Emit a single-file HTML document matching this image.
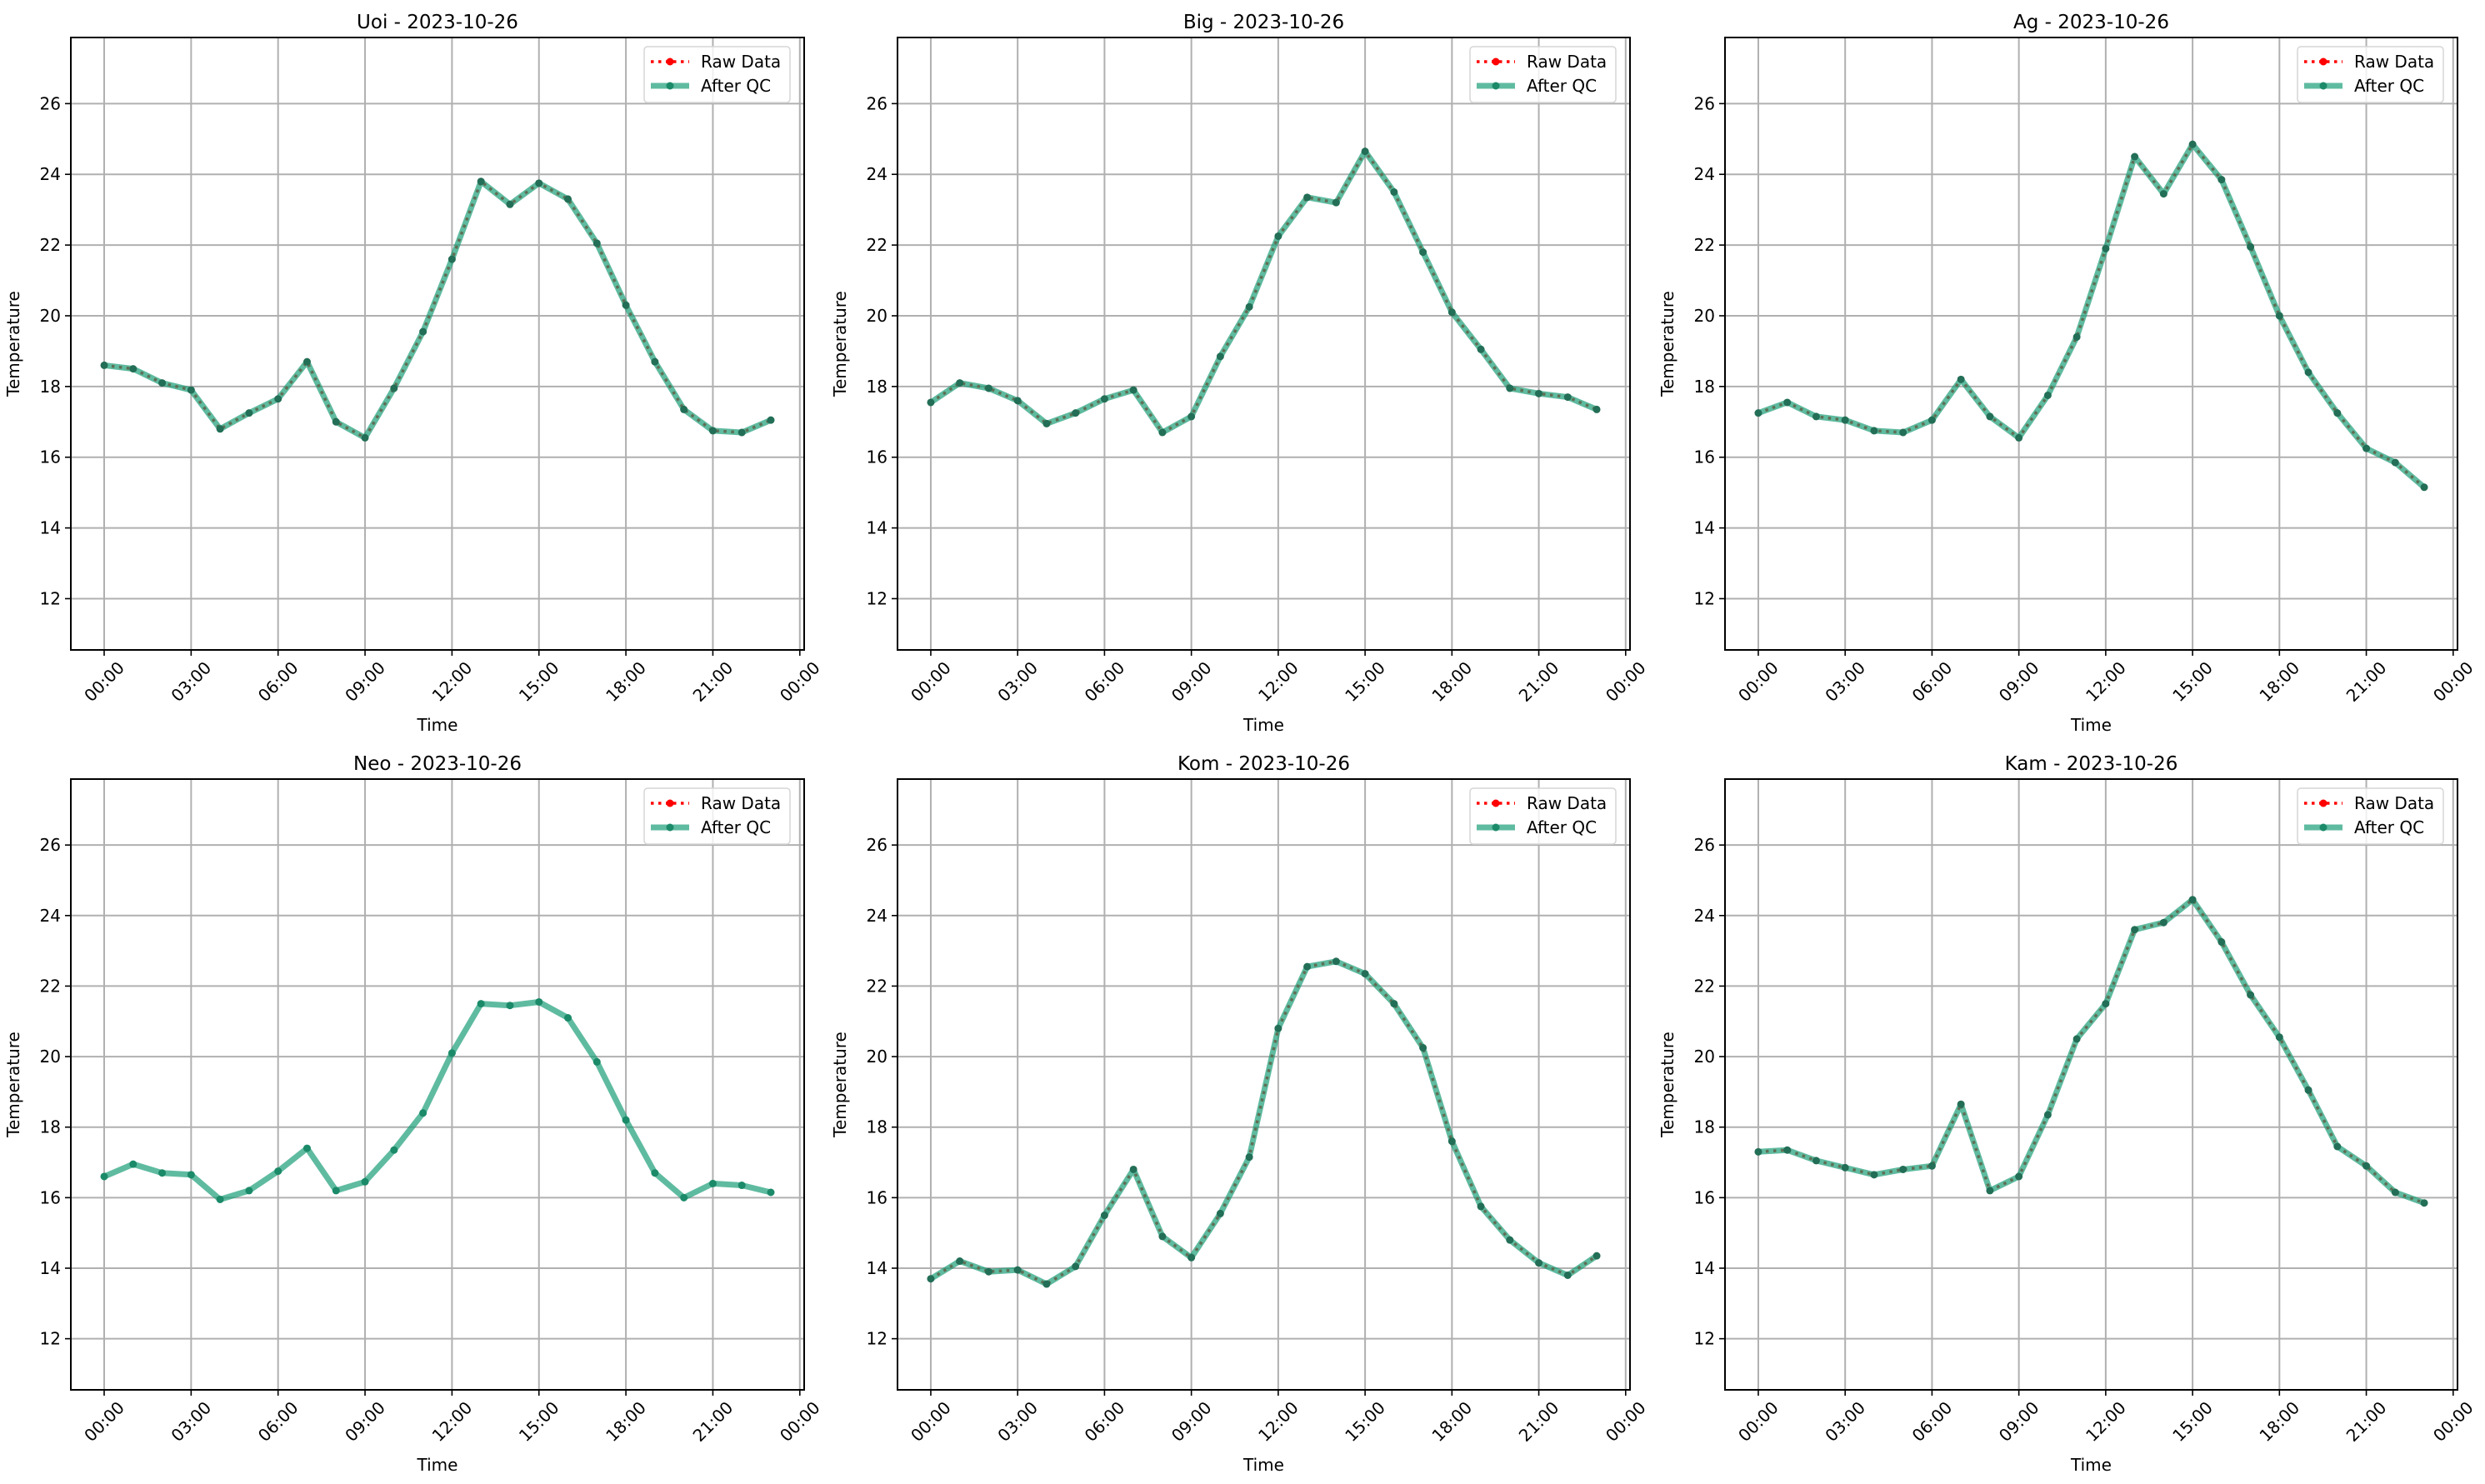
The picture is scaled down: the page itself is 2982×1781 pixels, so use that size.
<!DOCTYPE html>
<html><head><meta charset="utf-8"><style>
html,body{margin:0;padding:0;background:#fff}
svg{display:block}
text{font-family:"DejaVu Sans","Liberation Sans",sans-serif;fill:#000}
</style></head><body>
<svg id="fig" width="2982" height="1781" viewBox="0 0 2982 1781" xmlns="http://www.w3.org/2000/svg"></svg>
<script>
const stations = ["Uoi","Big","Ag","Neo","Kom","Kam"];
const dateLabel = "2023-10-26";
const hours = [0,1,2,3,4,5,6,7,8,9,10,11,12,13,14,15,16,17,18,19,20,21,22,23];
const uoiTemp = [18.6,18.5,18.1,17.9,16.8,17.25,17.65,18.7,17.0,16.55,17.95,19.55,21.6,23.8,23.15,23.75,23.3,22.05,20.3,18.7,17.35,16.75,16.7,17.05];
const bigTemp = [17.55,18.1,17.95,17.6,16.95,17.25,17.65,17.9,16.7,17.15,18.85,20.25,22.25,23.35,23.2,24.65,23.5,21.8,20.1,19.05,17.95,17.8,17.7,17.35];
const agTemp = [17.25,17.55,17.15,17.05,16.75,16.7,17.05,18.2,17.15,16.55,17.75,19.4,21.9,24.5,23.45,24.85,23.85,21.95,20.0,18.4,17.25,16.25,15.85,15.15];
const neoTemp = [16.6,16.95,16.7,16.65,15.95,16.2,16.75,17.4,16.2,16.45,17.35,18.4,20.1,21.5,21.45,21.55,21.1,19.85,18.2,16.7,16.0,16.4,16.35,16.15];
const komTemp = [13.7,14.2,13.9,13.95,13.55,14.05,15.5,16.8,14.9,14.3,15.55,17.15,20.8,22.55,22.7,22.35,21.5,20.25,17.6,15.75,14.8,14.15,13.8,14.35];
const kamTemp = [17.3,17.35,17.05,16.85,16.65,16.8,16.9,18.65,16.2,16.6,18.35,20.5,21.5,23.6,23.8,24.45,23.25,21.75,20.55,19.05,17.45,16.9,16.15,15.85];
const rawShown = [true,true,true,false,true,true];
const yTicks = [12,14,16,18,20,22,24,26];
const xTicks = [0,3,6,9,12,15,18,21,24];
const xTickLabels = ["00:00","03:00","06:00","09:00","12:00","15:00","18:00","21:00","00:00"];
const yDomain = [10.55,27.87];
const xDomain = [-1.15,24.15];

const allTemps = [uoiTemp,bigTemp,agTemp,neoTemp,komTemp,kamTemp];
const colsX = [[85,965],[1077,1956],[2070,2949]];
const rowsY = [[45,780],[935,1668]];
const NS = "http://www.w3.org/2000/svg";
const fig = document.getElementById("fig");
function mk(tag, attrs, parent){
  const e = document.createElementNS(NS, tag);
  for (const k in attrs) e.setAttribute(k, attrs[k]);
  (parent||fig).appendChild(e);
  return e;
}
stations.forEach((name, i) => {
  const [L,R] = colsX[i%3], [T,B] = rowsY[Math.floor(i/3)];
  const xs = h => L + (h - xDomain[0]) / (xDomain[1]-xDomain[0]) * (R-L);
  const ys = v => B - (v - yDomain[0]) / (yDomain[1]-yDomain[0]) * (B-T);
  const g = mk("g", {});
  
  
  // grid
  yTicks.forEach(v => {
    const l = mk("line", {x1:L,x2:R,y1:ys(v),y2:ys(v),stroke:"#b0b0b0","stroke-width":2}, g);
    
    
    const tk = mk("line", {x1:L-7,x2:L,y1:ys(v),y2:ys(v),stroke:"#000","stroke-width":1.6}, g);
    
    
    const t = mk("text", {x:L-12,y:ys(v)+7,"text-anchor":"end","font-size":20}, g);
    t.textContent = v;
    
    
  });
  xTicks.forEach((h, j) => {
    const l = mk("line", {x1:xs(h),x2:xs(h),y1:T,y2:B,stroke:"#b0b0b0","stroke-width":2}, g);
    
    
    const tk = mk("line", {x1:xs(h),x2:xs(h),y1:B,y2:B+7,stroke:"#000","stroke-width":1.6}, g);
    
    
    const cx = xs(h), cy = B + 38;
    const t = mk("text", {x:cx,y:cy+7,"text-anchor":"middle","font-size":20,transform:`rotate(-45 ${cx} ${cy})`}, g);
    t.textContent = xTickLabels[j];
    
    
  });
  const data = allTemps[i];
  const pts = hours.map((h,k) => xs(h).toFixed(1)+","+ys(data[k]).toFixed(1)).join(" ");
  if (rawShown[i]) {
    const raw = mk("polyline", {points:pts,fill:"none",stroke:"#ff0000","stroke-width":3.5,"stroke-dasharray":"3.5 5.5"}, g);
    
    
  }
  const qc = mk("polyline", {points:pts,fill:"none",stroke:"#1b9e77","stroke-width":7,"stroke-opacity":0.7,"stroke-linejoin":"round"}, g);
  
  
  hours.forEach((h,k) => {
    const c = mk("circle", {cx:xs(h),cy:ys(data[k]),r:4.5,fill:rawShown[i]?"#236e56":"#1b8a68"}, g);
    
    
  });
  const fr = mk("rect", {x:L,y:T,width:R-L,height:B-T,fill:"none",stroke:"#000","stroke-width":2}, g);
  
  
  const tt = mk("text", {x:(L+R)/2,y:T-11,"text-anchor":"middle","font-size":23}, g);
  tt.textContent = name + " - " + dateLabel;
  
  
  const xl = mk("text", {x:(L+R)/2,y:B+97,"text-anchor":"middle","font-size":20}, g);
  xl.textContent = "Time";
  
  
  const yx = L-62, yy = (T+B)/2;
  const yl = mk("text", {x:yx,y:yy,"text-anchor":"middle","font-size":20,transform:`rotate(-90 ${yx} ${yy})`}, g);
  yl.textContent = "Temperature";
  
  
  // legend
  const lg = mk("g", {}, g);
  
  
  const lx = R-192, ly = T+11;
  mk("rect", {x:lx,y:ly,width:175,height:67,rx:4,fill:"#fff","fill-opacity":0.8,stroke:"#d6d6d6","stroke-width":1.5}, lg);
  const e1 = mk("g", {}, lg);
  
  
  mk("line", {x1:lx+8,x2:lx+54,y1:ly+18,y2:ly+18,stroke:"#ff0000","stroke-width":3.5,"stroke-dasharray":"3.5 5.5"}, e1);
  mk("circle", {cx:lx+31,cy:ly+18,r:4.5,fill:"#ff0000"}, e1);
  const t1 = mk("text", {x:lx+68,y:ly+25,"font-size":20}, e1);
  t1.textContent = "Raw Data";
  const e2 = mk("g", {}, lg);
  
  
  mk("line", {x1:lx+8,x2:lx+54,y1:ly+47,y2:ly+47,stroke:"#1b9e77","stroke-width":7,"stroke-opacity":0.7}, e2);
  mk("circle", {cx:lx+31,cy:ly+47,r:4.5,fill:"#1b8a68"}, e2);
  const t2 = mk("text", {x:lx+68,y:ly+54,"font-size":20}, e2);
  t2.textContent = "After QC";
});
</script>
</body></html>
